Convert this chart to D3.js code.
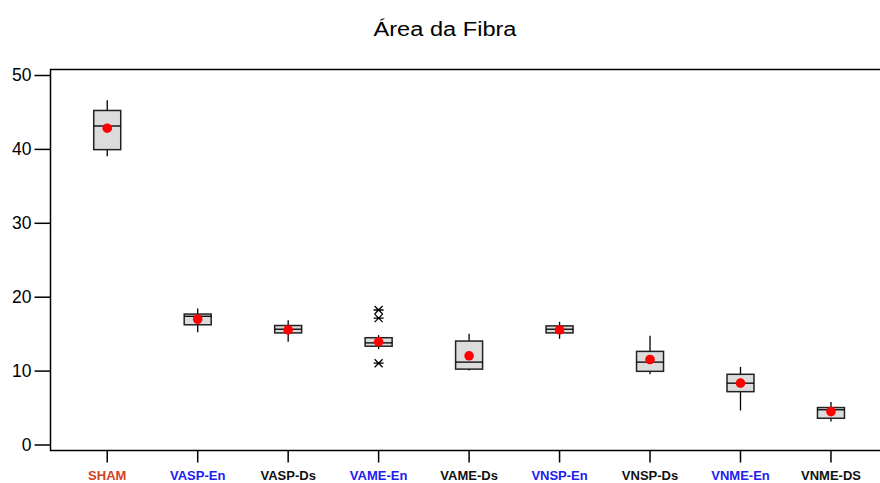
<!DOCTYPE html>
<html>
<head>
<meta charset="utf-8">
<script src="https://cdn.jsdelivr.net/npm/d3@7"></script>
<style>
  html, body { margin: 0; padding: 0; background: #fff; }
  svg { display: block; font-family: Arial, "Liberation Sans", sans-serif; }
</style>
</head>
<body>
<svg id="chart" width="880" height="483"></svg>
<script>
// ---- data ----
const categories = ["SHAM", "VASP-En", "VASP-Ds", "VAME-En", "VAME-Ds", "VNSP-En", "VNSP-Ds", "VNME-En", "VNME-DS"];
const labelColors = ["#d2421c", "#2020ee", "#111111", "#2020ee", "#111111", "#2020ee", "#111111", "#2020ee", "#111111"];
const whiskerLow  = [39.0, 15.2, 13.9, 12.9, 10.0, 14.3, 9.5, 4.6, 3.1];
const q1          = [39.9, 16.2, 15.1, 13.3, 10.2, 15.1, 9.9, 7.15, 3.55];
const median      = [43.1, 17.35, 15.6, 13.75, 11.15, 15.6, 11.15, 8.3, 4.7];
const q3          = [45.2, 17.65, 16.1, 14.45, 14.0, 16.05, 12.6, 9.5, 5.0];
const whiskerHigh = [46.6, 18.4, 16.8, 14.8, 15.0, 16.6, 14.7, 10.5, 5.75];
const means       = [42.8, 16.95, 15.5, 13.9, 12.0, 15.5, 11.5, 8.3, 4.45];
const outlierCat  = ["VAME-En", "VAME-En", "VAME-En"];
const outlierVal  = [18.2, 17.1, 11.0];
const yTicks = [0, 10, 20, 30, 40, 50];
const title = "Área da Fibra";

// ---- layout ----
const svg = d3.select("#chart");
const frame = { left: 50.5, top: 69.5, bottom: 450.5, right: 880 };

const x = d3.scaleBand().domain(categories).range([62, 876.2]).padding(0);
const y = d3.scaleLinear().domain([0, 50]).range([444.5, 75]);
const boxW = 27;

// title
svg.append("text")
  .attr("x", 445).attr("y", 36)
  .attr("text-anchor", "middle")
  .attr("font-size", 20)
  .attr("textLength", 143)
  .attr("lengthAdjust", "spacingAndGlyphs")
  .attr("fill", "#000")
  .text(title);

// frame lines (top, left, bottom)
svg.append("path")
  .attr("d", `M${frame.right},${frame.top}H${frame.left}V${frame.bottom}H${frame.right}`)
  .attr("fill", "none").attr("stroke", "#000").attr("stroke-width", 1.5);

// y axis
const yAxis = d3.axisLeft(y).tickValues(yTicks).tickSize(16).tickPadding(3).tickFormat(d3.format("d"));
const gy = svg.append("g").attr("transform", `translate(${frame.left},0)`).call(yAxis);
gy.select(".domain").remove();
gy.selectAll(".tick line").attr("stroke", "#000").attr("stroke-width", 1.5);
gy.selectAll(".tick text").attr("font-size", 17.5).attr("fill", "#000")
  .attr("font-family", "Arial, 'Liberation Sans', sans-serif");

// x axis
const xAxis = d3.axisBottom(x).tickSize(12).tickPadding(8);
const gx = svg.append("g").attr("transform", `translate(0,${frame.bottom})`).call(xAxis);
gx.select(".domain").remove();
gx.selectAll(".tick line").attr("stroke", "#000").attr("stroke-width", 1.5);
gx.selectAll(".tick text")
  .attr("font-size", 13).attr("font-weight", "bold")
  .attr("font-family", "Arial, 'Liberation Sans', sans-serif")
  .attr("fill", (d, i) => labelColors[i]);

// boxes
const data = categories.map((c, i) => ({
  c, lo: whiskerLow[i], q1: q1[i], med: median[i], q3: q3[i], hi: whiskerHigh[i], mean: means[i]
}));
const g = svg.append("g");
const cx = d => x(d.c) + x.bandwidth() / 2;

g.selectAll(".wh-hi").data(data).join("line")
  .attr("x1", cx).attr("x2", cx)
  .attr("y1", d => y(d.hi)).attr("y2", d => y(d.q3))
  .attr("stroke", "#000").attr("stroke-width", 1.3);
g.selectAll(".wh-lo").data(data).join("line")
  .attr("x1", cx).attr("x2", cx)
  .attr("y1", d => y(d.q1)).attr("y2", d => y(d.lo))
  .attr("stroke", "#000").attr("stroke-width", 1.3);
g.selectAll(".box").data(data).join("rect")
  .attr("x", d => cx(d) - boxW / 2).attr("width", boxW)
  .attr("y", d => y(d.q3)).attr("height", d => y(d.q1) - y(d.q3))
  .attr("fill", "#dcdcdc").attr("stroke", "#222").attr("stroke-width", 1.5);
g.selectAll(".med").data(data).join("line")
  .attr("x1", d => cx(d) - boxW / 2).attr("x2", d => cx(d) + boxW / 2)
  .attr("y1", d => y(d.med)).attr("y2", d => y(d.med))
  .attr("stroke", "#000").attr("stroke-width", 1.3);
g.selectAll(".mean").data(data).join("circle")
  .attr("cx", cx).attr("cy", d => y(d.mean)).attr("r", 4.8)
  .attr("fill", "#ff0000");

// outliers (asterisks)
const outliers = outlierCat.map((c, i) => ({ c, v: outlierVal[i] }));
const s = 5;
g.selectAll(".out").data(outliers).join("path")
  .attr("transform", d => `translate(${x(d.c) + x.bandwidth() / 2},${y(d.v)})`)
  .attr("d", `M${-s},0H${s}M${-s*0.8},${-s*0.8}L${s*0.8},${s*0.8}M${-s*0.8},${s*0.8}L${s*0.8},${-s*0.8}`)
  .attr("stroke", "#000").attr("stroke-width", 1.3).attr("fill", "none");
</script>
</body>
</html>
